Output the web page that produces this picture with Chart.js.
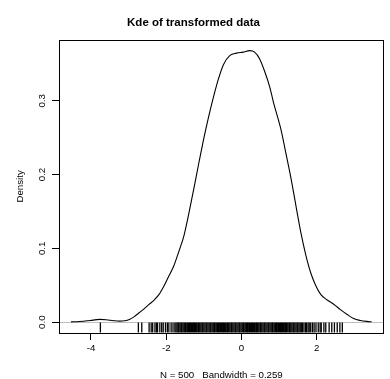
<!DOCTYPE html>
<html>
<head>
<meta charset="utf-8">
<title>Kde of transformed data</title>
<script src="https://cdn.jsdelivr.net/npm/chart.js@4/dist/chart.umd.min.js"></script>
<style>
    html, body { margin: 0; padding: 0; background: #fff; }
    #wrap { width: 390px; height: 379px; }
</style>
</head>
<body>
<div id="wrap"><canvas id="kdeChart" width="390" height="379"></canvas></div>
<script>
// Density estimate
const kdeX = [-4.53, -4.3, -4.1, -3.95, -3.77, -3.6, -3.4, -3.24, -3.1, -2.98, -2.85, -2.72, -2.59,
    -2.455, -2.32, -2.19, -2.06, -1.93, -1.80, -1.67, -1.53, -1.40, -1.27, -1.14, -1.01, -0.88,
    -0.745, -0.61, -0.48, -0.305, -0.13, 0.045, 0.22, 0.35, 0.48, 0.615, 0.75, 0.85, 1.05, 1.18,
    1.32, 1.45, 1.58, 1.71, 1.84, 1.97, 2.105, 2.28, 2.46, 2.63, 2.81, 2.98, 3.16, 3.33, 3.46];
const kdeY = [0.0004, 0.0009, 0.0018, 0.0028, 0.0037, 0.0033, 0.0020, 0.0014, 0.0020, 0.0037, 0.0075, 0.0127, 0.018,
    0.024, 0.030, 0.0376, 0.049, 0.0624, 0.076, 0.095, 0.117, 0.147, 0.180, 0.214, 0.247, 0.277,
    0.305, 0.330, 0.349, 0.3615, 0.3646, 0.366, 0.368, 0.366, 0.357, 0.340, 0.319, 0.298, 0.261, 0.229,
    0.194, 0.157, 0.121, 0.091, 0.067, 0.050, 0.0376, 0.030, 0.024, 0.017, 0.0104, 0.005, 0.0023, 0.001, 0.0005];

// Rug of the observations (dense middle read as roughly one tick per pixel)
const rugX = [-3.75, -2.74, -2.65, -2.455, -2.40, -2.36, -2.30, -2.26, -2.23, -2.17, -2.12, -2.08,
    -2.02, -1.97, -1.93, -1.87, -1.82, -1.77,
    -1.74, -1.71, -1.68, -1.66, -1.63, -1.60, -1.58, -1.55, -1.52, -1.49, -1.47, -1.44, -1.41, -1.38,
    -1.36, -1.33, -1.30, -1.27, -1.25, -1.22, -1.19, -1.16, -1.14, -1.11, -1.08, -1.05, -1.03, -1.00,
    -0.97, -0.94, -0.92, -0.89, -0.86, -0.83, -0.81, -0.78, -0.75, -0.72, -0.70, -0.67, -0.64, -0.61,
    -0.59, -0.56, -0.53, -0.50, -0.48, -0.45, -0.42, -0.39, -0.37, -0.34, -0.31, -0.28, -0.26, -0.23,
    -0.20, -0.17, -0.15, -0.12, -0.09, -0.06, -0.04, -0.01, 0.02, 0.05, 0.07, 0.10, 0.13, 0.16, 0.18,
    0.21, 0.24, 0.27, 0.29, 0.32, 0.35, 0.38, 0.40, 0.43, 0.46, 0.49, 0.51, 0.54, 0.57, 0.60, 0.62,
    0.65, 0.68, 0.71, 0.73, 0.76, 0.79, 0.82, 0.84, 0.87, 0.90, 0.93, 0.95, 0.98, 1.01, 1.04, 1.06,
    1.09, 1.12, 1.15, 1.17, 1.20, 1.23, 1.26, 1.28, 1.31, 1.34, 1.37, 1.39, 1.42, 1.45, 1.48, 1.50,
    1.53, 1.56, 1.59, 1.62, 1.66, 1.70, 1.73, 1.77, 1.80, 1.84,
    1.887, 1.93, 1.98, 2.04, 2.09, 2.12, 2.19, 2.24, 2.33, 2.40, 2.47, 2.545, 2.615, 2.68];

// Axis ticks
const xTicks = [-4, -2, 0, 2];
const yTicks = [0.0, 0.1, 0.2, 0.3];
const xRange = [-4.85, 3.78];
const yRange = [-0.0147, 0.3827];
const rugLevel = -0.0073;

const titleText = 'Kde of transformed data';
const xTitle = 'N = 500   Bandwidth = 0.259';
const yTitle = 'Density';

const FONT = "'Liberation Sans', Arial, Helvetica, sans-serif";

// Box round the plot region, like R's box()
const boxPlugin = {
    id: 'box',
    afterDraw(chart) {
        const a = chart.chartArea;
        const ctx = chart.ctx;
        ctx.save();
        ctx.strokeStyle = '#000';
        ctx.lineWidth = 1;
        ctx.strokeRect(Math.round(a.left) + 0.5, Math.round(a.top) + 0.5,
            Math.round(a.right - a.left) - 1, Math.round(a.bottom - a.top));
        ctx.restore();
    }
};

function buildChart() {
    Chart.defaults.color = '#000';
    Chart.defaults.font.family = FONT;

    const ctx = document.getElementById('kdeChart').getContext('2d');
    new Chart(ctx, {
        type: 'scatter',
        data: {
            datasets: [{
                data: kdeX.map((x, i) => ({ x: x, y: kdeY[i] })),
                showLine: true,
                borderColor: '#000',
                borderWidth: 1.1,
                pointRadius: 0,
                cubicInterpolationMode: 'monotone'
            }, {
                data: rugX.map(x => ({ x: x, y: rugLevel })),
                showLine: false,
                pointStyle: 'line',
                rotation: 90,
                pointRadius: 5,
                borderColor: '#000',
                borderWidth: 1.3
            }]
        },
        options: {
            responsive: false,
            animation: false,
            devicePixelRatio: 1,
            layout: { padding: { left: 0, right: 3, top: 0, bottom: 0 } },
            plugins: {
                legend: { display: false },
                tooltip: { enabled: false },
                title: {
                    display: true,
                    text: titleText,
                    font: { size: 11.5, weight: 'bold', family: FONT },
                    padding: { top: 16, bottom: 10 }
                }
            },
            scales: {
                x: {
                    type: 'linear',
                    min: xRange[0],
                    max: xRange[1],
                    afterBuildTicks: s => { s.ticks = xTicks.map(v => ({ value: v })); },
                    afterFit: s => { s.height = 46; },
                    border: { display: false },
                    grid: { drawOnChartArea: false, tickLength: 7, tickColor: '#000' },
                    ticks: {
                        font: { size: 9.7 },
                        padding: 3,
                        maxRotation: 0,
                        callback: v => String(v)
                    },
                    title: {
                        display: true,
                        text: xTitle,
                        font: { size: 9.7, lineHeight: 1 },
                        padding: { top: 0, bottom: -1 }
                    }
                },
                y: {
                    type: 'linear',
                    min: yRange[0],
                    max: yRange[1],
                    afterBuildTicks: s => { s.ticks = yTicks.map(v => ({ value: v })); },
                    afterFit: s => { s.width = 59; },
                    border: { display: false },
                    grid: {
                        color: c => (c.tick && c.tick.value === 0 ? '#bebebe' : 'rgba(0,0,0,0)'),
                        lineWidth: 1,
                        tickLength: 7,
                        tickColor: '#000'
                    },
                    ticks: {
                        font: { size: 9.7 },
                        padding: 3,
                        minRotation: 90,
                        maxRotation: 90,
                        crossAlign: 'center',
                        callback: v => v.toFixed(1)
                    },
                    title: {
                        display: true,
                        text: yTitle,
                        font: { size: 9.7, lineHeight: 1 },
                        padding: { top: 15, bottom: 0 }
                    }
                }
            }
        },
        plugins: [boxPlugin]
    });
}

document.addEventListener('DOMContentLoaded', buildChart);
</script>
</body>
</html>
